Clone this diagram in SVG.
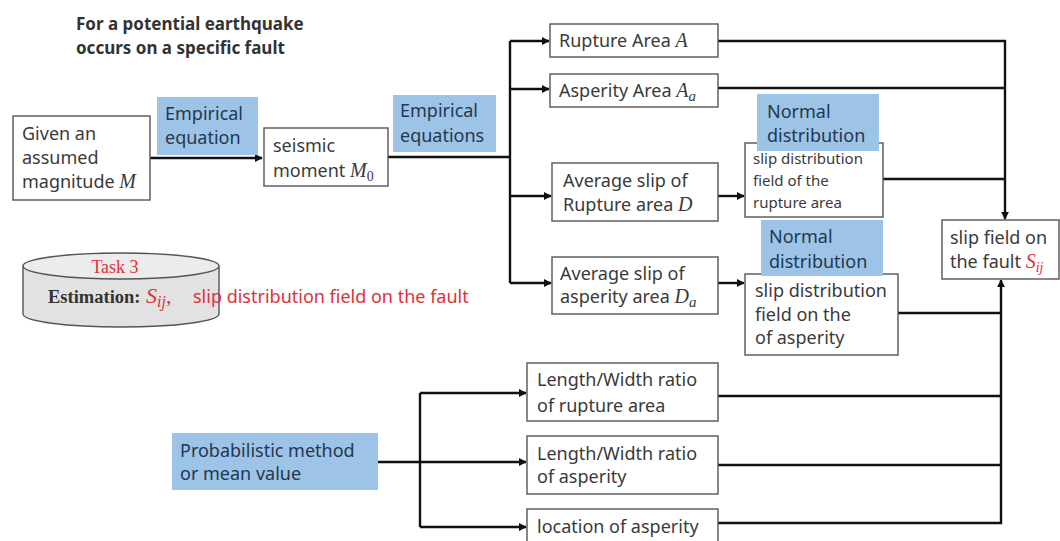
<svg xmlns="http://www.w3.org/2000/svg" width="1060" height="541" viewBox="0 0 1060 541">
  <defs>
    <marker id="arrow" viewBox="0 0 10 10" refX="9" refY="5" markerWidth="8" markerHeight="8" markerUnits="userSpaceOnUse" orient="auto">
      <path d="M0,0 L10,5 L0,10 z" fill="#111"/>
    </marker>
    <style>
      .box { fill: #fff; stroke: #555; stroke-width: 1.4; }
      .note { fill: #9dc3e6; }
      .t { font-family: "Noto Sans", "Liberation Sans", sans-serif; font-size: 18px; fill: #3a3a3a; }
      .ts { font-family: "Noto Sans", "Liberation Sans", sans-serif; font-size: 15px; fill: #3a3a3a; }
      .tn { font-family: "Noto Sans", "Liberation Sans", sans-serif; font-size: 18px; fill: #23384f; }
      .m { font-family: "Liberation Serif", serif; font-style: italic; }
      .red { fill: #e0303a; }
      .wire { fill: none; stroke: #111; stroke-width: 2.4; }
      .title { font-family: "Noto Sans", "Liberation Sans", sans-serif; font-size: 17px; font-weight: bold; fill: #333; }
    </style>
  </defs>

  <rect width="1060" height="541" fill="#fff"/>

  <!-- heading -->
  <g id="heading">
    <text class="title" x="76" y="30">For a potential earthquake</text>
    <text class="title" x="76" y="54">occurs on a specific fault</text>
  </g>

  <!-- connectors -->
  <g id="connectors">
    <path class="wire" d="M150,158 H262" marker-end="url(#arrow)"/>
    <path class="wire" d="M388,157 H510"/>
    <path class="wire" d="M510,41 V283"/>
    <path class="wire" d="M510,41 H549" marker-end="url(#arrow)"/>
    <path class="wire" d="M510,89 H549" marker-end="url(#arrow)"/>
    <path class="wire" d="M510,196 H551" marker-end="url(#arrow)"/>
    <path class="wire" d="M510,283 H551" marker-end="url(#arrow)"/>
    <path class="wire" d="M718,196 H744" marker-end="url(#arrow)"/>
    <path class="wire" d="M718,283 H744" marker-end="url(#arrow)"/>
    <path class="wire" d="M718,41 H1005 V219" marker-end="url(#arrow)"/>
    <path class="wire" d="M718,88 H1005"/>
    <path class="wire" d="M883,179 H1005"/>
    <path class="wire" d="M898,313 H1001"/>
    <path class="wire" d="M718,396 H1001"/>
    <path class="wire" d="M718,465 H1001"/>
    <path class="wire" d="M718,523 H1001 V280" marker-end="url(#arrow)"/>
    <path class="wire" d="M378,462 H526" marker-end="url(#arrow)"/>
    <path class="wire" d="M420,393 V527"/>
    <path class="wire" d="M420,393 H526" marker-end="url(#arrow)"/>
    <path class="wire" d="M420,527 H526" marker-end="url(#arrow)"/>
  </g>

  <g id="magnitude">
    <rect class="box" x="13" y="116" width="137" height="84"/>
    <text class="t" x="22" y="140">Given an</text>
    <text class="t" x="22" y="164">assumed</text>
    <text class="t" x="22" y="188">magnitude <tspan class="m" font-size="20">M</tspan></text>
  </g>

  <g id="empirical-equation">
    <rect class="note" x="157" y="97" width="101" height="58"/>
    <text class="tn" x="165" y="120">Empirical</text>
    <text class="tn" x="165" y="144">equation</text>
  </g>

  <g id="seismic-moment">
    <rect class="box" x="264" y="128" width="124" height="58"/>
    <text class="t" x="273" y="152">seismic</text>
    <text class="t" x="273" y="177">moment <tspan class="m" font-size="20">M</tspan><tspan font-family="Liberation Serif, serif" font-size="14" dy="4">0</tspan></text>
  </g>

  <g id="empirical-equations">
    <rect class="note" x="393" y="95" width="103" height="57"/>
    <text class="tn" x="400" y="117">Empirical</text>
    <text class="tn" x="400" y="142">equations</text>
  </g>

  <g id="rupture-area">
    <rect class="box" x="550" y="24" width="168" height="33"/>
    <text class="t" x="559" y="47">Rupture Area <tspan class="m" font-size="20">A</tspan></text>
  </g>

  <g id="asperity-area">
    <rect class="box" x="550" y="74" width="168" height="33"/>
    <text class="t" x="559" y="97">Asperity Area <tspan class="m" font-size="20">A</tspan><tspan class="m" font-size="15" dy="4">a</tspan></text>
  </g>

  <g id="average-slip-rupture">
    <rect class="box" x="552" y="163" width="166" height="58"/>
    <text class="t" x="563" y="187">Average slip of</text>
    <text class="t" x="563" y="211">Rupture area <tspan class="m" font-size="20">D</tspan></text>
  </g>

  <g id="average-slip-asperity">
    <rect class="box" x="552" y="257" width="166" height="57"/>
    <text class="t" x="560" y="280">Average slip of</text>
    <text class="t" x="560" y="303">asperity area <tspan class="m" font-size="20">D</tspan><tspan class="m" font-size="15" dy="4">a</tspan></text>
  </g>

  <g id="rupture-slip-field">
    <rect class="box" x="745" y="143" width="138" height="74"/>
    <text class="ts" x="753" y="164">slip distribution</text>
    <text class="ts" x="753" y="186">field of the</text>
    <text class="ts" x="753" y="208">rupture area</text>
  </g>

  <g id="normal-distribution-1">
    <rect class="note" x="757" y="94" width="122" height="57"/>
    <text class="tn" x="767" y="118">Normal</text>
    <text class="tn" x="767" y="142">distribution</text>
  </g>

  <g id="asperity-slip-field">
    <rect class="box" x="745" y="274" width="153" height="81"/>
    <text class="t" x="755" y="297">slip distribution</text>
    <text class="t" x="755" y="321">field on the</text>
    <text class="t" x="755" y="344">of asperity</text>
  </g>

  <g id="normal-distribution-2">
    <rect class="note" x="761" y="220" width="122" height="56"/>
    <text class="tn" x="769" y="243">Normal</text>
    <text class="tn" x="769" y="268">distribution</text>
  </g>

  <g id="slip-field">
    <rect class="box" x="942" y="220" width="117" height="59"/>
    <text class="t" x="950" y="244">slip field on</text>
    <text class="t" x="950" y="268">the fault <tspan class="m red" font-size="20">S</tspan><tspan class="m red" font-size="14" dy="4">ij</tspan></text>
  </g>

  <g id="probabilistic">
    <rect class="note" x="172" y="433" width="206" height="57"/>
    <text class="tn" x="180" y="457">Probabilistic method</text>
    <text class="tn" x="180" y="480">or mean value</text>
  </g>

  <g id="lw-rupture">
    <rect class="box" x="527" y="363" width="191" height="58"/>
    <text class="t" x="537" y="386">Length/Width ratio</text>
    <text class="t" x="537" y="412">of rupture area</text>
  </g>

  <g id="lw-asperity">
    <rect class="box" x="527" y="436" width="191" height="58"/>
    <text class="t" x="537" y="460">Length/Width ratio</text>
    <text class="t" x="537" y="483">of asperity</text>
  </g>

  <g id="asperity-location">
    <rect class="box" x="527" y="509" width="191" height="40"/>
    <text class="t" x="537" y="533">location of asperity</text>
  </g>

  <!-- task cylinder -->
  <g id="task-3">
    <path d="M23,266 V314 A98,13 0 0 0 219,314 V266" fill="#e2e2e2" stroke="#555" stroke-width="1.4"/>
    <ellipse cx="121" cy="266" rx="98" ry="13" fill="#ececec" stroke="#555" stroke-width="1.4"/>
    <text x="115" y="273" text-anchor="middle" font-family="Liberation Serif, serif" font-size="18" fill="#e0303a">Task 3</text>
    <text x="48" y="303" font-family="Liberation Serif, serif" font-size="18.5" font-weight="bold" fill="#333">Estimation:</text>
    <text x="146" y="303" class="m red" font-size="22">S<tspan font-size="16" dy="4">ij</tspan><tspan font-style="normal" dy="-4">,</tspan></text>
    <text class="t red" x="193" y="303" font-size="17.5">slip distribution field on the fault</text>
  </g>
</svg>
